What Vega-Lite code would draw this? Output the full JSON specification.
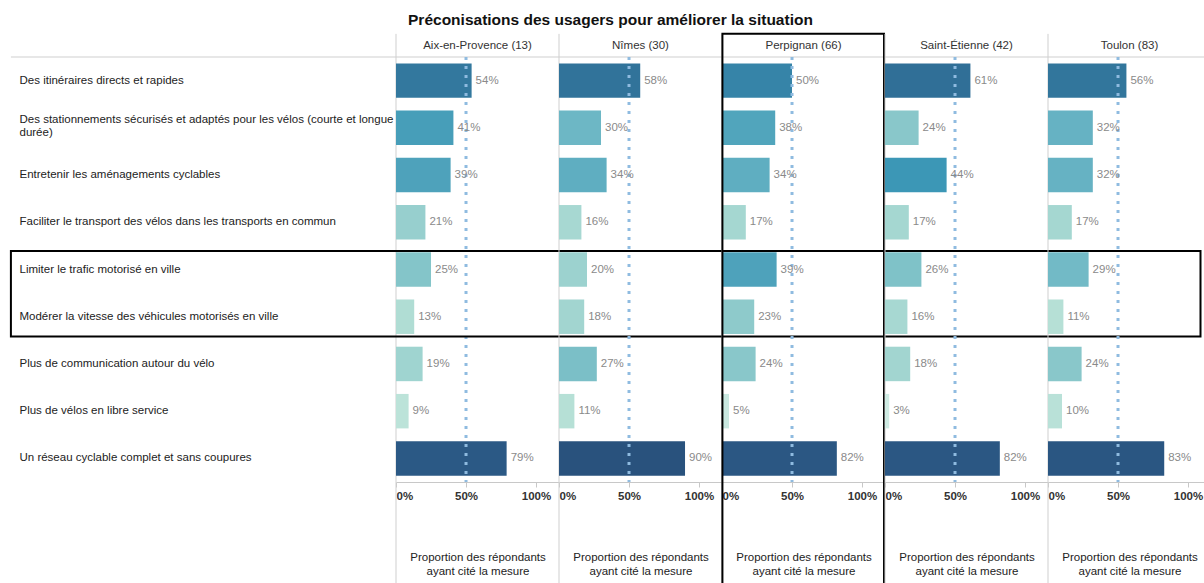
{
  "$schema": "https://vega.github.io/schema/vega-lite/v6.json",
  "autosize": {"type": "pad"},
  "padding": {"left": 9, "top": 13, "right": 0, "bottom": 0},
  "config": {
    "font": "Liberation Sans",
    "view": {"stroke": null},
    "title": {"fontSize": 15.5, "fontWeight": "bold", "color": "#111", "anchor": "middle", "offset": 4}
  },
  "title": "Préconisations des usagers pour améliorer la situation",
  "data": {"values": [
    {"city": "Aix-en-Provence (13)", "measure": "Des itinéraires directs et rapides", "value": 0.54},
    {"city": "Aix-en-Provence (13)", "measure": "Des stationnements sécurisés et adaptés pour les vélos (courte et longue durée)", "value": 0.41},
    {"city": "Aix-en-Provence (13)", "measure": "Entretenir les aménagements cyclables", "value": 0.39},
    {"city": "Aix-en-Provence (13)", "measure": "Faciliter le transport des vélos dans les transports en commun", "value": 0.21},
    {"city": "Aix-en-Provence (13)", "measure": "Limiter le trafic motorisé en ville", "value": 0.25},
    {"city": "Aix-en-Provence (13)", "measure": "Modérer la vitesse des véhicules motorisés en ville", "value": 0.13},
    {"city": "Aix-en-Provence (13)", "measure": "Plus de communication autour du vélo", "value": 0.19},
    {"city": "Aix-en-Provence (13)", "measure": "Plus de vélos en libre service", "value": 0.09},
    {"city": "Aix-en-Provence (13)", "measure": "Un réseau cyclable complet et sans coupures", "value": 0.79},
    {"city": "Nîmes (30)", "measure": "Des itinéraires directs et rapides", "value": 0.58},
    {"city": "Nîmes (30)", "measure": "Des stationnements sécurisés et adaptés pour les vélos (courte et longue durée)", "value": 0.30},
    {"city": "Nîmes (30)", "measure": "Entretenir les aménagements cyclables", "value": 0.34},
    {"city": "Nîmes (30)", "measure": "Faciliter le transport des vélos dans les transports en commun", "value": 0.16},
    {"city": "Nîmes (30)", "measure": "Limiter le trafic motorisé en ville", "value": 0.20},
    {"city": "Nîmes (30)", "measure": "Modérer la vitesse des véhicules motorisés en ville", "value": 0.18},
    {"city": "Nîmes (30)", "measure": "Plus de communication autour du vélo", "value": 0.27},
    {"city": "Nîmes (30)", "measure": "Plus de vélos en libre service", "value": 0.11},
    {"city": "Nîmes (30)", "measure": "Un réseau cyclable complet et sans coupures", "value": 0.90},
    {"city": "Perpignan (66)", "measure": "Des itinéraires directs et rapides", "value": 0.50},
    {"city": "Perpignan (66)", "measure": "Des stationnements sécurisés et adaptés pour les vélos (courte et longue durée)", "value": 0.38},
    {"city": "Perpignan (66)", "measure": "Entretenir les aménagements cyclables", "value": 0.34},
    {"city": "Perpignan (66)", "measure": "Faciliter le transport des vélos dans les transports en commun", "value": 0.17},
    {"city": "Perpignan (66)", "measure": "Limiter le trafic motorisé en ville", "value": 0.39},
    {"city": "Perpignan (66)", "measure": "Modérer la vitesse des véhicules motorisés en ville", "value": 0.23},
    {"city": "Perpignan (66)", "measure": "Plus de communication autour du vélo", "value": 0.24},
    {"city": "Perpignan (66)", "measure": "Plus de vélos en libre service", "value": 0.05},
    {"city": "Perpignan (66)", "measure": "Un réseau cyclable complet et sans coupures", "value": 0.82},
    {"city": "Saint-Étienne (42)", "measure": "Des itinéraires directs et rapides", "value": 0.61},
    {"city": "Saint-Étienne (42)", "measure": "Des stationnements sécurisés et adaptés pour les vélos (courte et longue durée)", "value": 0.24},
    {"city": "Saint-Étienne (42)", "measure": "Entretenir les aménagements cyclables", "value": 0.44},
    {"city": "Saint-Étienne (42)", "measure": "Faciliter le transport des vélos dans les transports en commun", "value": 0.17},
    {"city": "Saint-Étienne (42)", "measure": "Limiter le trafic motorisé en ville", "value": 0.26},
    {"city": "Saint-Étienne (42)", "measure": "Modérer la vitesse des véhicules motorisés en ville", "value": 0.16},
    {"city": "Saint-Étienne (42)", "measure": "Plus de communication autour du vélo", "value": 0.18},
    {"city": "Saint-Étienne (42)", "measure": "Plus de vélos en libre service", "value": 0.03},
    {"city": "Saint-Étienne (42)", "measure": "Un réseau cyclable complet et sans coupures", "value": 0.82},
    {"city": "Toulon (83)", "measure": "Des itinéraires directs et rapides", "value": 0.56},
    {"city": "Toulon (83)", "measure": "Des stationnements sécurisés et adaptés pour les vélos (courte et longue durée)", "value": 0.32},
    {"city": "Toulon (83)", "measure": "Entretenir les aménagements cyclables", "value": 0.32},
    {"city": "Toulon (83)", "measure": "Faciliter le transport des vélos dans les transports en commun", "value": 0.17},
    {"city": "Toulon (83)", "measure": "Limiter le trafic motorisé en ville", "value": 0.29},
    {"city": "Toulon (83)", "measure": "Modérer la vitesse des véhicules motorisés en ville", "value": 0.11},
    {"city": "Toulon (83)", "measure": "Plus de communication autour du vélo", "value": 0.24},
    {"city": "Toulon (83)", "measure": "Plus de vélos en libre service", "value": 0.10},
    {"city": "Toulon (83)", "measure": "Un réseau cyclable complet et sans coupures", "value": 0.83}
  ]},
  "spacing": 0,
  "bounds": "flush",
  "facet": {
    "column": {
      "field": "city", "type": "nominal",
      "sort": ["Aix-en-Provence (13)", "Nîmes (30)", "Perpignan (66)", "Saint-Étienne (42)", "Toulon (83)"],
      "title": null,
      "header": {"labelFontSize": 11.5, "labelColor": "#333", "labelPadding": 6, "labelFont": "Liberation Sans"}
    }
  },
  "spec": {
    "width": 163,
    "height": 425,
    "layer": [
      {
        "transform": [{"filter": "datum.measure == 'Des itinéraires directs et rapides'"}],
        "mark": {"type": "rule", "color": "#cfcfcf", "strokeWidth": 1},
        "encoding": {
          "x": {"datum": 0, "type": "quantitative"},
          "y": {"datum": "Des itinéraires directs et rapides", "type": "nominal", "bandPosition": -0.49},
          "y2": {"datum": "Un réseau cyclable complet et sans coupures", "bandPosition": 3.2}
        }
      },
      {
        "transform": [{"filter": "datum.measure == 'Des itinéraires directs et rapides' && datum.city == 'Aix-en-Provence (13)'"}],
        "mark": {"type": "rule", "color": "#cfcfcf", "strokeWidth": 1},
        "encoding": {
          "x": {"datum": -2.75, "type": "quantitative"},
          "x2": {"datum": 5.8},
          "y": {"datum": "Des itinéraires directs et rapides", "type": "nominal", "bandPosition": 0}
        }
      },
      {
        "mark": {"type": "bar", "height": {"band": 0.73}},
        "encoding": {
          "x": {"field": "value", "type": "quantitative", "scale": {"domain": [0, 1.164], "nice": false},
            "axis": {"format": ".0%", "values": [0, 0.5, 1], "labelFlush": true, "labelFontWeight": "bold", "labelColor": "#333", "labelFontSize": 11.5, "labelPadding": 3, "tickColor": "#c8c8c8", "tickSize": 5, "domainColor": "#c8c8c8", "grid": false, "title": ["Proportion des répondants", "ayant cité la mesure"], "titleFontSize": 11.5, "titleFontWeight": "normal", "titleColor": "#222", "titlePadding": 50, "titleLineHeight": 14}},
          "y": {"field": "measure", "type": "nominal", "sort": null,
            "scale": {"paddingInner": 0, "paddingOuter": 0, "domain": ["Des itinéraires directs et rapides", "Des stationnements sécurisés et adaptés pour les vélos (courte et longue durée)", "Entretenir les aménagements cyclables", "Faciliter le transport des vélos dans les transports en commun", "Limiter le trafic motorisé en ville", "Modérer la vitesse des véhicules motorisés en ville", "Plus de communication autour du vélo", "Plus de vélos en libre service", "Un réseau cyclable complet et sans coupures"]},
            "axis": {"title": null, "labelAlign": "left", "labelPadding": 377, "ticks": false, "domain": false, "labelFontSize": 11.5, "labelColor": "#222", "labelLimit": 400, "labelLineHeight": 13,
              "labelOffset": {"condition": {"test": "indexof(datum.value, '(courte') > 0", "value": -8}, "value": 0},
              "labelExpr": "indexof(datum.label, '(courte') > 0 ? ['Des stationnements sécurisés et adaptés pour les vélos (courte et longue', 'durée)'] : datum.label"}},
          "color": {"field": "value", "type": "quantitative", "legend": null,
            "scale": {"domain": [0.03, 0.11, 0.2, 0.3, 0.44, 0.54, 0.8, 0.9], "range": ["#cfebe3", "#b6e0d6", "#9cd2cf", "#6db7c5", "#3c97b6", "#33789e", "#2b5884", "#29527d"]}}
        }
      },
      {
        "transform": [{"filter": "datum.measure == 'Des itinéraires directs et rapides'"}],
        "mark": {"type": "rule", "color": "#8fbbe0", "strokeWidth": 3, "strokeDash": [3, 6]},
        "encoding": {"x": {"datum": 0.5, "type": "quantitative"}}
      },
      {
        "mark": {"type": "text", "align": "left", "baseline": "middle", "dx": 4, "fontSize": 11.5, "color": "#8a8a8a"},
        "encoding": {
          "x": {"field": "value", "type": "quantitative"},
          "y": {"field": "measure", "type": "nominal", "sort": null},
          "text": {"field": "value", "type": "quantitative", "format": ".0%"}
        }
      },
      {
        "transform": [{"filter": "datum.measure == 'Des itinéraires directs et rapides' && datum.city == 'Perpignan (66)'"}],
        "mark": {"type": "rect", "fill": null, "fillOpacity": 0, "stroke": "#000", "strokeWidth": 2},
        "encoding": {
          "x": {"datum": 0.003, "type": "quantitative"},
          "x2": {"datum": 1.157},
          "y": {"datum": "Des itinéraires directs et rapides", "type": "nominal", "bandPosition": -0.49},
          "y2": {"datum": "Un réseau cyclable complet et sans coupures", "bandPosition": 3.2}
        }
      },
      {
        "transform": [{"filter": "datum.measure == 'Des itinéraires directs et rapides' && datum.city == 'Aix-en-Provence (13)'"}],
        "mark": {"type": "rect", "fill": null, "fillOpacity": 0, "stroke": "#000", "strokeWidth": 2},
        "encoding": {
          "x": {"datum": -2.75, "type": "quantitative"},
          "x2": {"datum": 5.745},
          "y": {"datum": "Limiter le trafic motorisé en ville", "type": "nominal", "bandPosition": 0.11},
          "y2": {"datum": "Modérer la vitesse des véhicules motorisés en ville", "bandPosition": 0.92}
        }
      }
    ]
  }
}
